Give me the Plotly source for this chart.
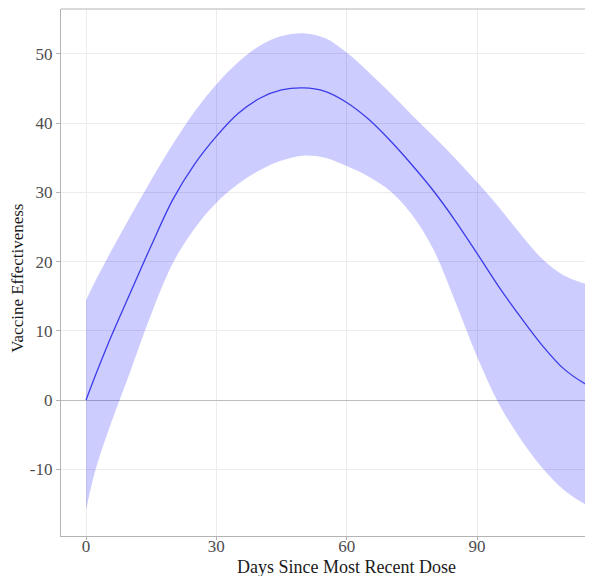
import plotly.graph_objects as go

# days since most recent dose
days = [0, 2, 5, 10, 15, 20, 25, 30, 35, 40, 45, 50, 55, 60, 65, 70, 75, 80,
        85, 90, 95, 100, 105, 110, 115, 117]
# estimated vaccine effectiveness and its interval
ve_mid = [0, 3.3, 8.0, 15.2, 22.3, 29.0, 34.1, 38.1, 41.4, 43.6, 44.8, 45.1,
          44.6, 43.0, 40.6, 37.5, 34.0, 30.2, 25.9, 21.2, 16.4, 12.0, 7.9,
          4.5, 2.3, 1.7]
ve_upper = [14.4, 17.0, 20.6, 26.3, 31.8, 37.0, 41.7, 45.6, 48.8, 51.2, 52.6,
            53.0, 52.3, 50.2, 47.4, 44.4, 41.2, 38.1, 34.9, 31.5, 27.9, 24.0,
            20.4, 18.0, 16.8, 16.5]
ve_lower = [-15.9, -10.5, -4.7, 3.8, 12.4, 19.8, 24.8, 28.5, 31.2, 33.2, 34.6,
            35.3, 35.0, 33.8, 32.3, 30.2, 26.8, 21.7, 14.2, 6.3, -0.5, -5.6,
            -9.8, -13.0, -15.1, -15.7]

x_ticks = [0, 30, 60, 90]
y_ticks = [-10, 0, 10, 20, 30, 40, 50]
y_tick_text = ["-10", "0", "10", "20", "30", "40", "50"]

serif = "Liberation Serif"

fig = go.Figure()
# confidence band
fig.add_trace(go.Scatter(
    x=days + days[::-1],
    y=ve_upper + ve_lower[::-1],
    fill="toself",
    fillcolor="rgba(0,0,255,0.2)",
    line=dict(width=0, shape="spline", smoothing=1),
    hoverinfo="skip",
    showlegend=False,
))
# central estimate
fig.add_trace(go.Scatter(
    x=days, y=ve_mid,
    mode="lines",
    line=dict(color="#3b3be8", width=1.3, shape="spline", smoothing=1),
    showlegend=False,
))

axis_font = dict(family=serif, size=17, color="#4d4d4d")
fig.update_xaxes(
    range=[-5.76, 116.7],
    tickvals=x_ticks,
    showgrid=True, gridcolor="#ececec", gridwidth=1,
    zeroline=False,
    showline=True, linecolor="#b3b3b3", linewidth=1.2,
    ticks="outside", ticklen=3, tickcolor="#b3b3b3",
    ticklabelstandoff=-9,
    tickfont=axis_font,
)
fig.update_yaxes(
    range=[-19.65, 56.5],
    tickvals=y_ticks, ticktext=y_tick_text,
    showgrid=True, gridcolor="#ececec", gridwidth=1,
    zeroline=True, zerolinecolor="#bdbdbd", zerolinewidth=1.2,
    showline=True, linecolor="#b3b3b3", linewidth=1.2,
    ticks="outside", ticklen=4, tickcolor="#b3b3b3",
    tickfont=axis_font,
)

# top border of the panel
fig.add_shape(type="line", xref="paper", yref="paper", x0=0, x1=1, y0=1, y1=1,
              line=dict(color="#b3b3b3", width=1.2))

fig.add_annotation(text="Days Since Most Recent Dose", x=60, xref="x",
                   y=-0.0588, yref="paper", yanchor="middle", showarrow=False,
                   font=dict(family=serif, size=18, color="#1a1a1a"))
fig.add_annotation(text="Vaccine Effectiveness", x=-0.0808, xref="paper",
                   xanchor="center", y=0.488, yref="paper", textangle=-90,
                   showarrow=False,
                   font=dict(family=serif, size=17, color="#1a1a1a"))

fig.update_layout(
    width=585, height=568,
    margin=dict(l=53, r=0, t=1, b=40),
    plot_bgcolor="white", paper_bgcolor="white",
)

fig.write_html("out.html")
